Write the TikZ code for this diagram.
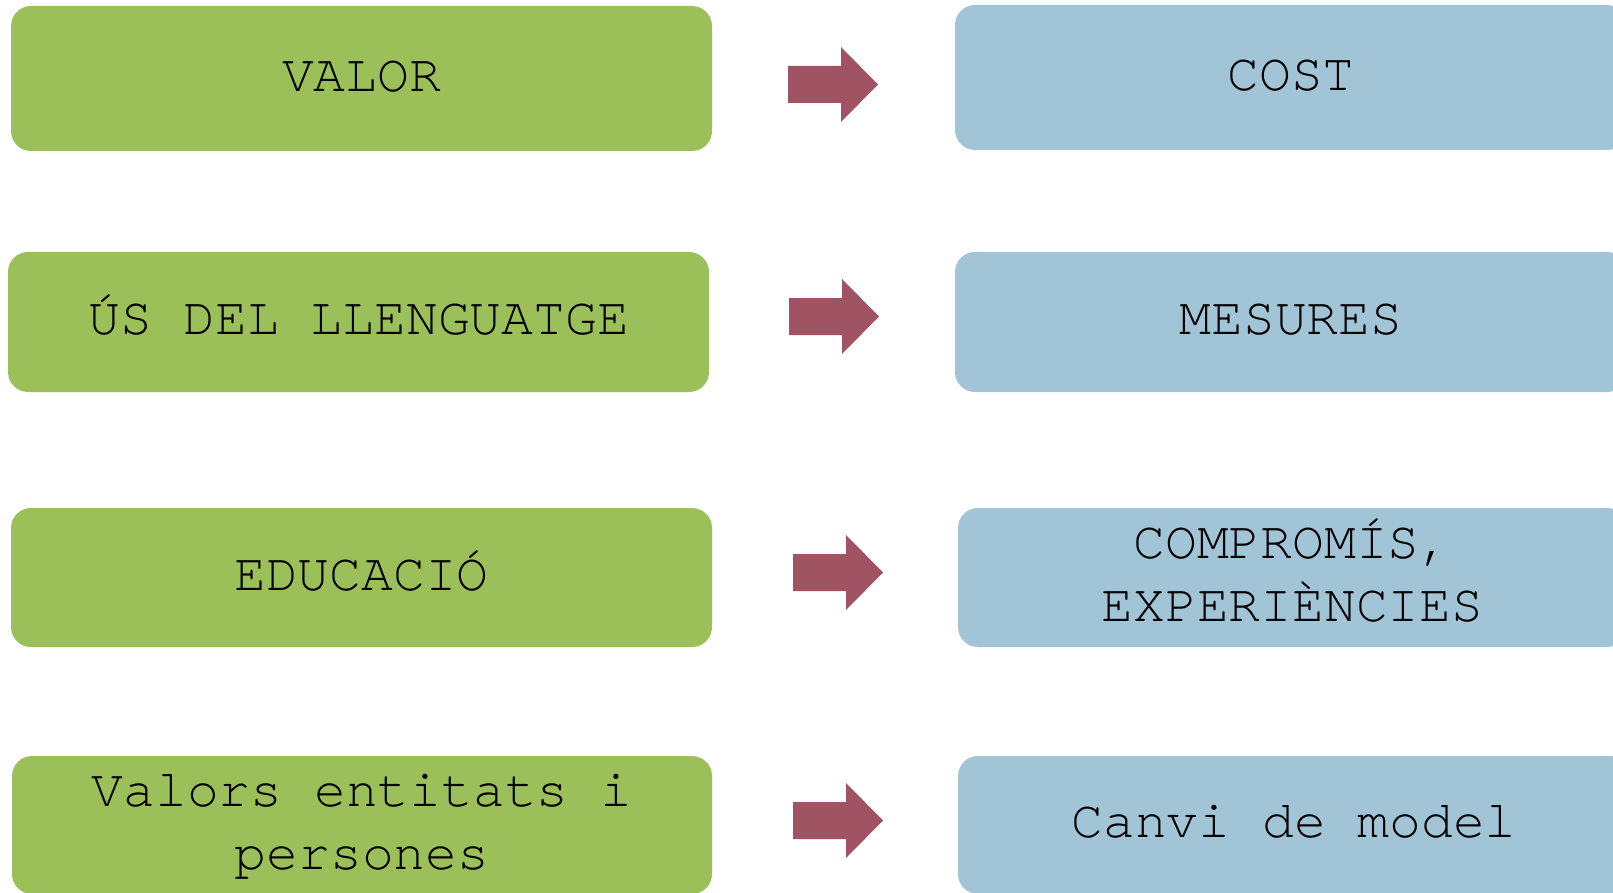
\documentclass[tikz,border=0pt]{standalone}
\usepackage{fontspec}
\setmonofont{TeX Gyre Cursor}
\definecolor{boxgreen}{RGB}{155,192,89}
\definecolor{boxblue}{RGB}{161,196,214}
\definecolor{arrowred}{RGB}{160,83,99}
\tikzset{
  card/.style={rounded corners=20pt, inner sep=0pt, align=center,
    font=\ttfamily\fontsize{53}{63}\selectfont, text=black},
  greencard/.style={card, fill=boxgreen},
  bluecard/.style={card, fill=boxblue},
  blockarrow/.pic={\fill[arrowred] (0,-18.5) -- (53,-18.5) -- (53,-37.5) -- (90,0)
     -- (53,37.5) -- (53,18.5) -- (0,18.5) -- cycle;}
}
\begin{document}
\begin{tikzpicture}[x=1pt,y=-1pt]
\useasboundingbox (0,0) rectangle (1613,893);
\clip (0,0) rectangle (1613,893);
% left column
\node[greencard, minimum width=701pt, minimum height=145pt] (g1) at (361.5,78.5) {VALOR\strut};
\node[greencard, minimum width=701pt, minimum height=140pt] (g2) at (358.5,322) {ÚS DEL LLENGUATGE\strut};
\node[greencard, minimum width=701pt, minimum height=139pt] (g3) at (361.5,577.5) {EDUCACIÓ\strut};
\node[greencard, minimum width=700pt, minimum height=138pt] (g4) at (362,825) {Valors entitats i\strut\\persones\strut};
% right column
\node[bluecard, minimum width=672pt, minimum height=145pt] (b1) at (1291,77.5) {COST\strut};
\node[bluecard, minimum width=672pt, minimum height=140pt] (b2) at (1291,322) {MESURES\strut};
\node[bluecard, minimum width=669pt, minimum height=139pt] (b3) at (1292.5,577.5) {COMPROMÍS,\strut\\EXPERIÈNCIES\strut};
\node[bluecard, minimum width=672pt, minimum height=138pt] (b4) at (1294,825) {Canvi de model\strut};
% arrows
\pic at (788,84.5) {blockarrow};
\pic at (789,316.5) {blockarrow};
\pic at (793,572.5) {blockarrow};
\pic at (793,820.5) {blockarrow};
\end{tikzpicture}
\end{document}
